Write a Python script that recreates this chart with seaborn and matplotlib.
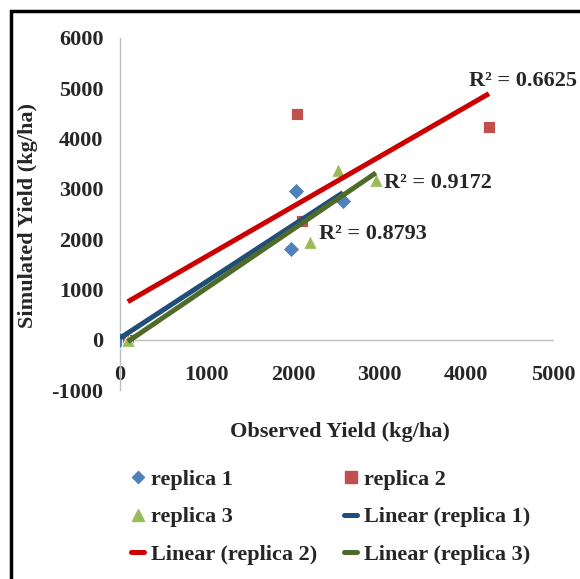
import numpy as np
import pandas as pd
import matplotlib
matplotlib.use("Agg")
import matplotlib.pyplot as plt
from matplotlib.lines import Line2D
from matplotlib.patches import Rectangle
import seaborn as sns

# observed vs simulated yield (kg/ha)
rep1_obs = [0, 1975, 2030, 2575]
rep1_sim = [0, 1800, 2960, 2760]
rep2_obs = [90, 2045, 2100, 4260]
rep2_sim = [0, 4490, 2370, 4235]
rep3_obs = [90, 2195, 2515, 2955]
rep3_sim = [0, 1950, 3380, 3180]

replicas = ["replica 1", "replica 2", "replica 3"]
r2_labels = ["R\u00b2 = 0.8793", "R\u00b2 = 0.6625", "R\u00b2 = 0.9172"]
x_ticks = [0, 1000, 2000, 3000, 4000, 5000]
y_ticks = [-1000, 0, 1000, 2000, 3000, 4000, 5000, 6000]

marker_cols = {"replica 1": "#4F81BD", "replica 2": "#C0504D", "replica 3": "#9BBB59"}
line_cols = {"replica 1": "#1F4E79", "replica 2": "#CC0000", "replica 3": "#4F6B2A"}
markers = {"replica 1": "D", "replica 2": "s", "replica 3": "^"}

df = pd.concat([
    pd.DataFrame({"obs": o, "sim": s, "rep": r})
    for o, s, r in zip([rep1_obs, rep2_obs, rep3_obs],
                       [rep1_sim, rep2_sim, rep3_sim], replicas)
], ignore_index=True)

sns.set_style("white")
plt.rcParams["font.family"] = ["Liberation Serif", "DejaVu Serif"]
plt.rcParams["font.weight"] = "bold"
plt.rcParams["axes.unicode_minus"] = False

fig = plt.figure(figsize=(5.8, 5.79), dpi=100)
ax = fig.add_axes([0.2069, 0.3264, 0.7466, 0.608])

sizes = {"replica 1": 70, "replica 2": 85, "replica 3": 95}
for rep in replicas:
    sub = df[df["rep"] == rep]
    sns.scatterplot(data=sub, x="obs", y="sim", ax=ax, color=marker_cols[rep],
                    marker=markers[rep], s=sizes[rep], edgecolor="white",
                    linewidth=0.6, zorder=3, legend=False)

# trendlines over the data range, like Excel's linear trendline
for rep in replicas:
    sub = df[df["rep"] == rep]
    sns.regplot(data=sub, x="obs", y="sim", ax=ax, scatter=False, ci=None,
                truncate=True, line_kws={"color": line_cols[rep], "lw": 3.6,
                                         "zorder": 4, "solid_capstyle": "butt"})

# R² labels placed relative to the end of each fitted line
offsets = {"replica 1": (-17, -30, "center"), "replica 2": (-14, 2, "bottom"),
           "replica 3": (6, -7, "center")}
for rep, lab in zip(replicas, r2_labels):
    sub = df[df["rep"] == rep]
    k, b = np.polyfit(sub["obs"], sub["sim"], 1)
    xe = sub["obs"].max()
    dx, dy, va = offsets[rep]
    ax.annotate(lab, xy=(xe, k * xe + b), xytext=(dx, dy), textcoords="offset points",
                ha="left", va=va, fontsize=16, fontweight="bold", zorder=6)

ax.set_xlim(0, 5000)
ax.set_ylim(-1000, 6000)
ax.set_xticks(x_ticks)
ax.set_yticks(y_ticks)
ax.spines["bottom"].set_position(("data", 0))
ax.spines["top"].set_visible(False)
ax.spines["right"].set_visible(False)
for sp in ("left", "bottom"):
    ax.spines[sp].set_color("#BFBFBF")
    ax.spines[sp].set_linewidth(1)
ax.tick_params(axis="x", direction="out", length=5, width=1, color="#BFBFBF",
               pad=13, labelsize=16)
ax.tick_params(axis="y", direction="out", length=5, width=1, color="#BFBFBF",
               pad=7, labelsize=16)
for t in ax.get_xticklabels() + ax.get_yticklabels():
    t.set_fontweight("bold")

ax.set_xlabel("Observed Yield (kg/ha)", fontsize=16, fontweight="bold")
ax.set_ylabel("Simulated Yield (kg/ha)", fontsize=16, fontweight="bold")
ax.xaxis.set_label_coords(0.508, -0.091)
ax.yaxis.set_label_coords(-0.189, 0.497)

h = {
    "replica 1": Line2D([], [], ls="", marker="D", ms=6, color=marker_cols["replica 1"]),
    "replica 2": Line2D([], [], ls="", marker="s", ms=8, color=marker_cols["replica 2"]),
    "replica 3": Line2D([], [], ls="", marker="^", ms=8, color=marker_cols["replica 3"]),
}
lin = {r: Line2D([], [], color=line_cols[r], lw=3.6) for r in replicas}
handles = [h["replica 1"], h["replica 3"], lin["replica 2"],
           h["replica 2"], lin["replica 1"], lin["replica 3"]]
labels = ["replica 1", "replica 3", "Linear (replica 2)",
          "replica 2", "Linear (replica 1)", "Linear (replica 3)"]
fig.legend(handles, labels, ncol=2, loc="center", bbox_to_anchor=(0.57, 0.107),
           frameon=False, prop={"size": 16, "weight": "bold"}, handlelength=0.6,
           handletextpad=0.3, columnspacing=1.2, labelspacing=0.75)

# black frame around the figure (open on the right and bottom like the source)
fig.patches.append(Rectangle((0.019, -0.2), 1.3, 1.181, transform=fig.transFigure,
                             fill=False, ec="black", lw=2.5))

fig.savefig("out.png", dpi=100)
